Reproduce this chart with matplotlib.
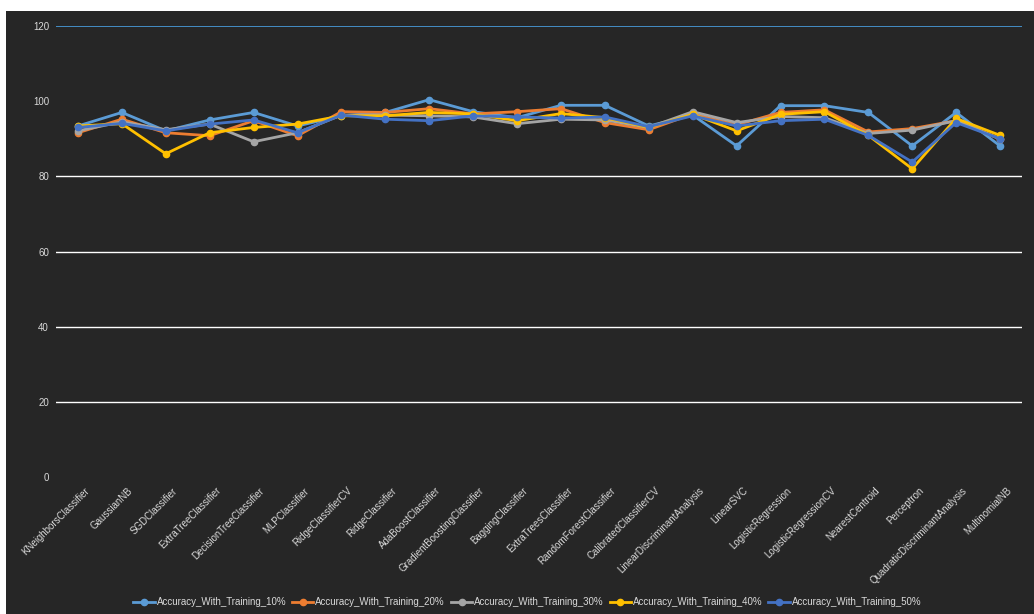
import numpy as np
import matplotlib.pyplot as plt
import matplotlib.transforms as mtransforms
from matplotlib.patches import Rectangle

classifiers = ["KNeighborsClassifier", "GaussianNB", "SGDClassifier", "ExtraTreeClassifier",
               "DecisionTreeClassifier", "MLPClassifier", "RidgeClassifierCV", "RidgeClassifier",
               "AdaBoostClassifier", "GradientBoostingClassifier", "BaggingClassifier",
               "ExtraTreesClassifier", "RandomForestClassifier", "CalibratedClassifierCV",
               "LinearDiscriminantAnalysis", "LinearSVC", "LogisticRegression",
               "LogisticRegressionCV", "NearestCentroid", "Perceptron",
               "QuadraticDiscriminantAnalysis", "MultinomialNB"]

acc_10 = [93.4, 97.0, 92.1, 95.0, 97.0, 93.4, 96.1, 97.0, 100.4, 97.2, 95.6,
          98.9, 98.9, 93.4, 96.3, 88.1, 98.8, 98.8, 97.0, 88.1, 97.0, 88.1]
acc_20 = [91.6, 95.2, 91.6, 90.8, 94.8, 90.8, 97.2, 97.0, 98.0, 96.6, 97.2,
          98.0, 94.3, 92.4, 96.6, 93.7, 97.0, 97.7, 91.8, 92.7, 94.8, 89.9]
acc_30 = [92.1, 94.5, 92.4, 93.9, 89.2, 91.6, 96.3, 96.3, 96.1, 95.8, 94.0,
          95.2, 95.0, 93.0, 97.2, 94.3, 95.9, 95.6, 91.4, 92.3, 94.8, 90.0]
acc_40 = [93.4, 94.0, 86.0, 91.6, 93.0, 93.9, 96.1, 96.1, 97.0, 96.6, 94.8,
          96.7, 95.6, 93.0, 96.5, 92.1, 96.5, 97.2, 90.9, 82.0, 95.4, 90.9]
acc_50 = [93.0, 94.1, 92.1, 93.9, 95.0, 91.6, 96.3, 95.2, 94.8, 96.1, 95.8,
          95.5, 95.8, 93.2, 96.1, 93.4, 94.8, 95.2, 90.9, 83.8, 94.3, 90.0]

series = [("Accuracy_With_Training_10%", acc_10, "#5B9BD5"),
          ("Accuracy_With_Training_20%", acc_20, "#ED7D31"),
          ("Accuracy_With_Training_30%", acc_30, "#A5A5A5"),
          ("Accuracy_With_Training_40%", acc_40, "#FFC000"),
          ("Accuracy_With_Training_50%", acc_50, "#4472C4")]

plt.rcParams['font.family'] = ['Liberation Sans', 'DejaVu Sans']
txt = '#d9d9d9'

fig = plt.figure(figsize=(10.34, 6.14), dpi=100, facecolor='white')
fig.patches.append(Rectangle((6 / 1034, 0), 1, 1 - 11 / 614, transform=fig.transFigure,
                             facecolor='#262626', edgecolor='none', zorder=-5))
ax = fig.add_axes([56 / 1034, 1 - 477 / 614, 966 / 1034, 451 / 614])
ax.set_zorder(2)
ax.set_facecolor('none')

x = np.arange(len(classifiers))
for name, vals, col in series:
    ax.plot(x, vals, color=col, lw=2, marker='o', ms=4.5, label=name, zorder=3)

ax.set_xlim(-0.5, len(classifiers) - 0.5)
ax.set_ylim(0, 120)
ax.set_yticks(range(0, 121, 20))
for v in [20, 40, 60, 80]:
    ax.axhline(v, color='white', lw=1, zorder=1)
ax.axhline(120, color='#4a9fe0', lw=1.2, zorder=1)
for s in ax.spines.values():
    s.set_visible(False)
ax.tick_params(axis='both', length=0, colors=txt, labelsize=7)
ax.tick_params(axis='y', pad=5)
ax.set_xticks(x)
ax.set_xticklabels(classifiers, rotation=45, ha='right', va='top', rotation_mode='anchor')
ax.tick_params(axis='x', pad=4)
shift = mtransforms.ScaledTranslation(0.06, -0.03, fig.dpi_scale_trans)
for lab in ax.get_xticklabels():
    lab.set_transform(lab.get_transform() + shift)

leg = fig.legend(loc='center', bbox_to_anchor=(0.51, 1 - 602 / 614), ncol=5, frameon=False,
                 fontsize=7, labelcolor=txt, handlelength=2.2, handletextpad=0.2,
                 columnspacing=0.6)

plt.savefig("out.png", dpi=100)
